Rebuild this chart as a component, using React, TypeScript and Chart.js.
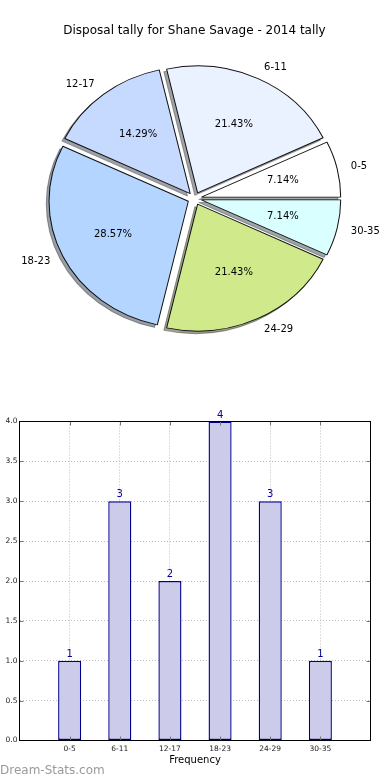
import React, { useEffect, useRef } from 'react';
import { Chart, registerables } from 'chart.js';

Chart.register(...registerables);

const TITLE = 'Disposal tally for Shane Savage - 2014 tally';
const categories = ['0-5', '6-11', '12-17', '18-23', '24-29', '30-35'];
const counts = [1, 3, 2, 4, 3, 1];
const pieColors = ['#ffffff', '#eaf1ff', '#c6d9ff', '#b4d5ff', '#d0e98a', '#d9ffff'];
const yTickStep = 0.5;
const yMin = 0;
const yMax = 4;
const X_LABEL = 'Frequency';
const WATERMARK = 'Dream-Stats.com';

const FONT = "'DejaVu Sans', 'Bitstream Vera Sans', sans-serif";

// pie geometry (page px) — matplotlib style elliptical, exploded pie with shadows
const PIE_CX = 194.6;
const PIE_CY = 198.5;
const PIE_RX = 139.3;
const PIE_RY = 126.8;
const EXPLODE = 0.05;
const SHADOW = 0.02;

// pie drawn clockwise from east in Chart.js => reverse matplotlib's CCW order
const pieLabels = [...categories].reverse();
const pieValues = [...counts].reverse();
const pieFill = [...pieColors].reverse();
const total = counts.reduce((a, b) => a + b, 0);

function shadowOf(hex: string): string {
  const h = hex.replace('#', '');
  const r = parseInt(h.slice(0, 2), 16);
  const g = parseInt(h.slice(2, 4), 16);
  const b = parseInt(h.slice(4, 6), 16);
  return `rgba(${Math.round(r * 0.3)},${Math.round(g * 0.3)},${Math.round(b * 0.3)},0.5)`;
}

const piePlugin = {
  id: 'mplPie',
  beforeDatasetDraw(chart: any, args: any) {
    const meta = chart.getDatasetMeta(args.index);
    const ctx: CanvasRenderingContext2D = chart.ctx;
    const arcs: any[] = meta.data;
    if (!arcs.length) return false;
    const R = arcs[0].outerRadius;
    const ex = arcs[0].x;
    const ey = arcs[0].y;
    const place = (arc: any, dx: number, dy: number) => {
      const mid = (arc.startAngle + arc.endAngle) / 2;
      ctx.translate(
        PIE_CX + EXPLODE * PIE_RX * Math.cos(mid) + dx,
        PIE_CY + EXPLODE * PIE_RY * Math.sin(mid) + dy
      );
      ctx.scale(PIE_RX / R, PIE_RY / R);
      ctx.translate(-ex, -ey);
    };
    // shadows first
    arcs.forEach((arc, i) => {
      ctx.save();
      place(arc, -SHADOW * PIE_RX, SHADOW * PIE_RY);
      const fake = Object.create(arc);
      const sc = shadowOf(pieFill[i]);
      fake.options = { ...arc.options, backgroundColor: sc, borderColor: sc };
      fake.draw(ctx);
      ctx.restore();
    });
    // wedges
    arcs.forEach((arc) => {
      ctx.save();
      place(arc, 0, 0);
      arc.draw(ctx);
      ctx.restore();
    });
    // labels
    ctx.save();
    ctx.fillStyle = '#000';
    ctx.font = `10px ${FONT}`;
    ctx.textBaseline = 'middle';
    arcs.forEach((arc, i) => {
      const mid = (arc.startAngle + arc.endAngle) / 2;
      const c = Math.cos(mid);
      const s = Math.sin(mid);
      const lx = PIE_CX + (EXPLODE + 1.1) * PIE_RX * c;
      const ly = PIE_CY + (EXPLODE + 1.1) * PIE_RY * s;
      ctx.textAlign = c > 0 ? 'left' : 'right';
      ctx.fillText(pieLabels[i], lx, ly);
      const px = PIE_CX + (EXPLODE + 0.6) * PIE_RX * c;
      const py = PIE_CY + (EXPLODE + 0.6) * PIE_RY * s;
      ctx.textAlign = 'center';
      ctx.fillText(((pieValues[i] / total) * 100).toFixed(2) + '%', px, py);
    });
    // title
    ctx.font = `12px ${FONT}`;
    ctx.textAlign = 'center';
    ctx.textBaseline = 'alphabetic';
    ctx.fillText(TITLE, 194.5, 34);
    ctx.restore();
    return false;
  },
};

const barPlugin = {
  id: 'mplBar',
  afterDraw(chart: any) {
    const ctx: CanvasRenderingContext2D = chart.ctx;
    const a = chart.chartArea;
    ctx.save();
    // inward tick marks
    ctx.strokeStyle = '#777';
    ctx.lineWidth = 1;
    const xs = chart.scales.x;
    const ys = chart.scales.y;
    ctx.beginPath();
    for (let i = 1; i <= categories.length; i++) {
      const x = Math.round(xs.getPixelForValue(i)) + 0.5;
      ctx.moveTo(x, a.bottom);
      ctx.lineTo(x, a.bottom - 4);
      ctx.moveTo(x, a.top);
      ctx.lineTo(x, a.top + 4);
    }
    for (let v = yMin + yTickStep; v < yMax; v += yTickStep) {
      const y = Math.round(ys.getPixelForValue(v)) + 0.5;
      ctx.moveTo(a.left, y);
      ctx.lineTo(a.left + 4, y);
      ctx.moveTo(a.right, y);
      ctx.lineTo(a.right - 4, y);
    }
    ctx.stroke();
    // frame
    ctx.strokeStyle = '#000';
    ctx.strokeRect(a.left, a.top, a.right - a.left, a.bottom - a.top);
    // value labels
    const meta = chart.getDatasetMeta(0);
    const vals = chart.data.datasets[0].data;
    ctx.fillStyle = '#00009a';
    ctx.font = `10px ${FONT}`;
    ctx.textAlign = 'center';
    ctx.textBaseline = 'alphabetic';
    meta.data.forEach((bar: any, i: number) => {
      const v = vals[i];
      if (v == null) return;
      ctx.fillText(String(v), bar.x, bar.y - 4);
    });
    // watermark
    ctx.fillStyle = '#9a9a9a';
    ctx.font = `12px ${FONT}`;
    ctx.textAlign = 'left';
    ctx.fillText(WATERMARK, 0, 374);
    ctx.restore();
  },
};

export default function App() {
  const pieRef = useRef<HTMLCanvasElement>(null);
  const barRef = useRef<HTMLCanvasElement>(null);

  useEffect(() => {
    Chart.defaults.font.family = FONT;
    const pie = new Chart(pieRef.current as HTMLCanvasElement, {
      type: 'pie',
      data: {
        labels: pieLabels,
        datasets: [
          {
            data: pieValues,
            backgroundColor: pieFill,
            borderColor: '#111',
            borderWidth: 1,
            hoverOffset: 0,
            offset: 0,
          },
        ],
      },
      options: {
        animation: false,
        responsive: false,
        devicePixelRatio: 1,
        rotation: 90,
        layout: { padding: { left: 56, right: 56, top: 60, bottom: 62 } },
        plugins: { legend: { display: false }, tooltip: { enabled: false } },
      },
      plugins: [piePlugin],
    } as any);

    const gridCommon = { display: true, drawTicks: false, offset: false, color: '#bdbdbd', lineWidth: 1 };
    const bar = new Chart(barRef.current as HTMLCanvasElement, {
      type: 'bar',
      data: {
        labels: ['', ...categories, ''],
        datasets: [
          {
            data: [null, ...counts, null],
            backgroundColor: '#ccccea',
            borderColor: '#00008f',
            borderWidth: 1.4,
            borderSkipped: false,
            inflateAmount: 0,
            barPercentage: 0.46,
            categoryPercentage: 1,
          },
        ],
      },
      options: {
        animation: false,
        responsive: false,
        devicePixelRatio: 1,
        layout: { padding: { top: 21.5, right: 19.5, left: 0, bottom: 0 } },
        plugins: { legend: { display: false }, tooltip: { enabled: false } },
        scales: {
          x: {
            type: 'category',
            offset: false,
            z: 1,
            grid: gridCommon,
            border: { display: false, dash: [1, 2] },
            ticks: {
              autoSkip: false,
              maxRotation: 0,
              minRotation: 0,
              padding: 4,
              color: '#222',
              font: { size: 7.5, family: FONT },
            },
            title: {
              display: true,
              text: X_LABEL,
              color: '#000',
              font: { size: 10, family: FONT },
              padding: { top: 0, bottom: 14 },
            },
            afterFit: (s: any) => {
              s.height = 39.5;
            },
          },
          y: {
            min: yMin,
            max: yMax,
            z: 1,
            grid: gridCommon,
            border: { display: false, dash: [1, 2] },
            ticks: {
              stepSize: yTickStep,
              padding: 2,
              color: '#222',
              font: { size: 7.5, family: FONT },
              callback: (v: any) => Number(v).toFixed(1),
            },
            afterFit: (s: any) => {
              s.width = 19.5;
            },
          },
        },
      },
      plugins: [barPlugin],
    } as any);

    return () => {
      pie.destroy();
      bar.destroy();
    };
  }, []);

  return (
    <div style={{ position: 'absolute', left: 0, top: 0, width: 390, height: 780, background: '#fff' }}>
      <canvas
        ref={pieRef}
        width={390}
        height={400}
        style={{ position: 'absolute', left: 0, top: 0, width: 390, height: 400 }}
      />
      <canvas
        ref={barRef}
        width={390}
        height={380}
        style={{ position: 'absolute', left: 0, top: 400, width: 390, height: 380 }}
      />
    </div>
  );
}
